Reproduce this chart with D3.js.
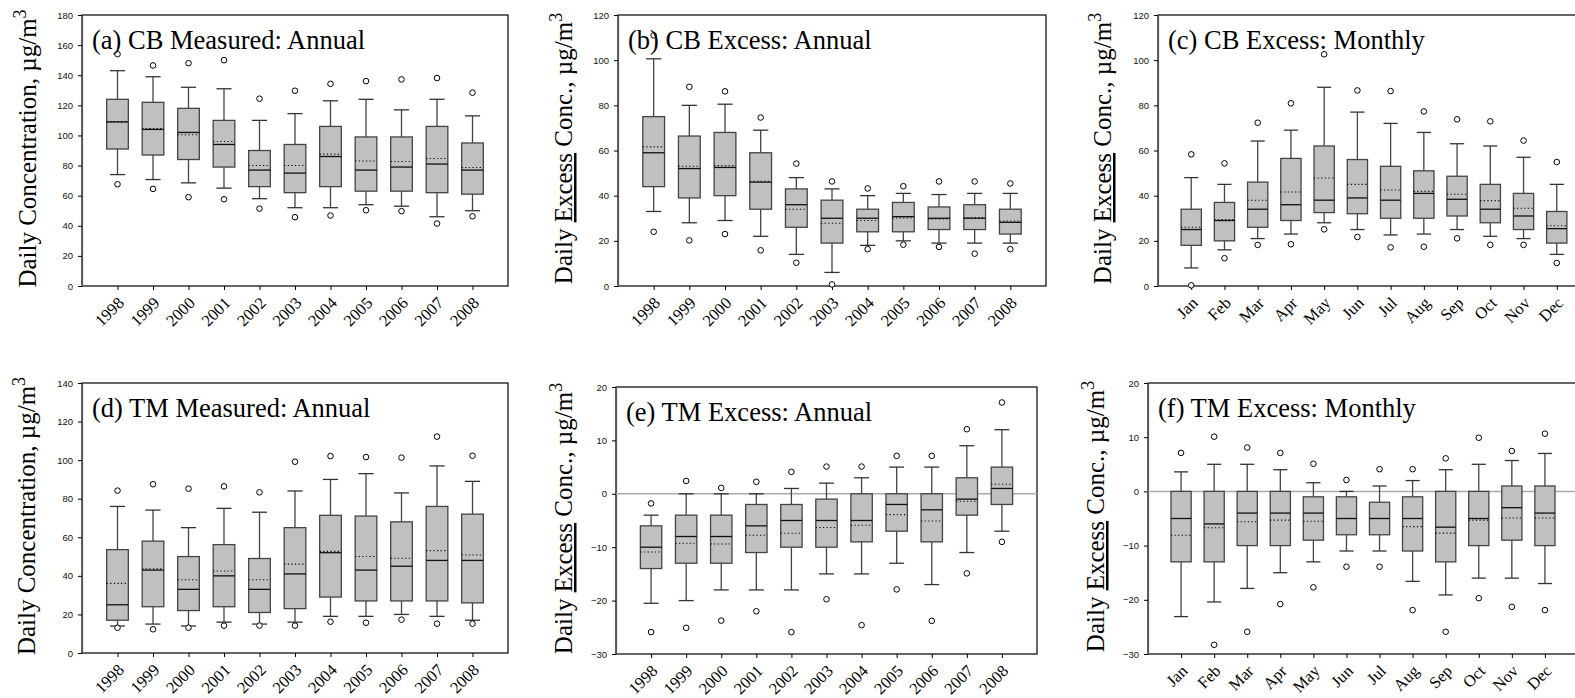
<!DOCTYPE html>
<html>
<head>
<meta charset="utf-8">
<script src="https://cdn.jsdelivr.net/npm/d3@7"></script>
<style>
  body { margin: 0; background: #fff; }
  svg { display: block; }
</style>
</head>
<body>
<svg width="1575" height="698"></svg>
<script>
const years = ['1998', '1999', '2000', '2001', '2002', '2003', '2004', '2005', '2006', '2007', '2008']
const months = ['Jan', 'Feb', 'Mar', 'Apr', 'May', 'Jun', 'Jul', 'Aug', 'Sep', 'Oct', 'Nov', 'Dec']

// each row: [5th pct, 10th pct, 25th, median, mean, 75th, 90th, 95th]
const cbMeasuredAnnual = [
    [67.6, 74, 91, 109, 109, 124, 143, 154],
    [64.5, 70.7, 87, 104, 104.6, 122, 139, 146.5],
    [59, 68.5, 84, 102, 100.5, 118, 132, 148],
    [57.6, 65, 79, 94, 96, 110, 131, 150],
    [51.4, 58, 66, 77, 80, 90, 110, 124.4],
    [45.7, 52, 62, 75, 80, 94, 114.5, 129.7],
    [46.8, 52, 66, 86, 87.6, 106, 123, 134.3],
    [50.3, 54, 63, 77, 83, 99, 124, 136.1],
    [49.7, 53, 63, 79, 82.7, 99, 117, 137.2],
    [41.5, 46, 62, 81, 84.7, 106, 124, 138.1],
    [46.3, 50, 61, 77, 78.7, 95, 113, 128.4]
]
const cbExcessAnnual = [
    [24, 33, 44, 59, 61.6, 75, 100.6, 111],
    [20.2, 28, 39, 52, 53, 66.4, 80, 88.2],
    [23, 29, 40, 52.5, 53.3, 68, 80.5, 86.2],
    [15.8, 22, 34, 46, 46.4, 59, 69, 74.6],
    [10.3, 14, 26, 36, 34, 43, 48, 54.2],
    [0.7, 6, 19, 30, 27.8, 38, 43, 46.3],
    [16.3, 18, 24, 30, 29, 34, 40, 43.2],
    [18.3, 20, 24, 30.7, 30.1, 37, 41, 44.2],
    [17.3, 19, 25, 30, 29.7, 35, 40.5, 46.3],
    [14.3, 19, 25, 30, 30.3, 36, 41, 46.3],
    [16.3, 19, 23, 28.2, 28.8, 34, 41, 45.4]
]
const cbExcessMonthly = [
    [0.3, 8, 18, 25, 26, 34, 48, 58.3],
    [12.3, 16, 20, 29, 29.4, 37, 45, 54.3],
    [18.2, 21, 26, 34, 38, 46, 64.2, 72.3],
    [18.5, 23, 29, 36, 41.6, 56.5, 69, 80.9],
    [25.1, 28, 32.5, 38, 47.8, 62, 88, 102.6],
    [21.7, 25, 32, 39, 45, 56, 77, 86.6],
    [17.1, 22.6, 30, 38, 42.5, 53, 72, 86.3],
    [17.4, 23, 30, 41, 41.9, 51, 68, 77.3],
    [21.1, 25, 31, 38.4, 40.6, 48.6, 63, 73.8],
    [18.2, 22, 28, 34, 37.8, 45, 62, 72.9],
    [18.2, 21, 25, 31, 34.4, 41, 57, 64.4],
    [10.2, 14, 19, 25.4, 26.7, 33, 45, 54.9]
]
const tmMeasuredAnnual = [
    [13.1, 14, 17, 25, 36.1, 53.6, 76, 84.2],
    [12.3, 15, 24, 43, 43.6, 58, 74.1, 87.5],
    [13.1, 14, 22, 33, 38, 50, 65, 85.2],
    [14.2, 16, 24, 40, 42.5, 56.2, 75, 86.4],
    [14.2, 15, 21, 33, 38, 49, 73, 83.3],
    [14.2, 16, 23, 41, 46.1, 65, 84, 99.2],
    [16.2, 19, 29, 52, 52.7, 71.4, 90, 102.1],
    [15.7, 19, 27, 43, 50, 71, 93, 101.6],
    [17.3, 20, 27, 45, 49.1, 68, 83, 101.3],
    [15.2, 19, 27, 48, 53.1, 76, 97, 112.2],
    [15.2, 17, 26, 48, 50.8, 72, 89, 102.3]
]
const tmExcessAnnual = [
    [-25.9, -20.5, -14, -10, -10.9, -6, -4, -1.8],
    [-25.1, -20, -13, -8, -9.25, -4, 0, 2.4],
    [-23.75, -18, -13, -8, -9.4, -4, 0, 1.1],
    [-22, -18, -11, -6, -7.75, -2, 0, 2.25],
    [-25.9, -18, -10, -5, -7.4, -2, 1, 4.1],
    [-19.75, -15, -10, -5, -6.3, -1, 2, 5.1],
    [-24.6, -15, -9, -5, -5.9, 0, 3, 5.1],
    [-17.9, -13, -7, -2, -3.9, 0, 5, 7.1],
    [-23.8, -17, -9, -3, -5.1, 0, 5, 7.1],
    [-14.9, -11, -4, -1, -1.4, 3, 9, 12.1],
    [-9, -7, -2, 1, 1.8, 5, 12, 17.1]
]
const tmExcessMonthly = [
    [null, -23.1, -13, -5, -8.1, 0, 3.6, 7.1],
    [-28.3, -20.4, -13, -6, -6.7, 0, 5, 10.1],
    [-25.9, -17.9, -10, -4, -5.6, 0, 5, 8.1],
    [-20.8, -15, -10, -4, -5.3, 0, 4, 7.1],
    [-17.7, -13, -9, -4, -5.5, -1, 1.6, 5.1],
    [-13.9, -11, -8, -5, -5, -1, 0, 2.1],
    [-13.9, -11, -8, -5, -5, -2, 1, 4.1],
    [-21.9, -16.6, -11, -5, -6.5, -1, 2, 4.1],
    [-25.9, -19.1, -13, -6.6, -7.7, 0, 4, 6.1],
    [-19.7, -16, -10, -5, -5.3, 0, 5, 9.9],
    [-21.3, -16, -9, -3, -4.9, 1, 5.7, 7.45],
    [-21.9, -17, -10, -4, -4.9, 1, 7, 10.65]
]

const panels = [
    { title: '(a) CB Measured: Annual', rows: cbMeasuredAnnual, cats: years, domain: [0, 180], step: 20, excess: false,
      left: 82, top: 15, right: 508, bottom: 286, labelX: 36 },
    { title: '(b) CB Excess: Annual', rows: cbExcessAnnual, cats: years, domain: [0, 120], step: 20, excess: true,
      left: 618, top: 15, right: 1046, bottom: 286, labelX: 572 },
    { title: '(c) CB Excess: Monthly', rows: cbExcessMonthly, cats: months, domain: [0, 120], step: 20, excess: true,
      left: 1158, top: 15, right: 1590, bottom: 286, labelX: 1111 },
    { title: '(d) TM Measured: Annual', rows: tmMeasuredAnnual, cats: years, domain: [0, 140], step: 20, excess: false,
      left: 82, top: 383, right: 508, bottom: 653, labelX: 35 },
    { title: '(e) TM Excess: Annual', rows: tmExcessAnnual, cats: years, domain: [-30, 20], step: 10, excess: true,
      left: 616, top: 387, right: 1037, bottom: 654, labelX: 572 },
    { title: '(f) TM Excess: Monthly', rows: tmExcessMonthly, cats: months, domain: [-30, 20], step: 10, excess: true,
      left: 1148, top: 383, right: 1578, bottom: 654, labelX: 1104 }
]

const svg = d3.select('svg')
const serif = '"Liberation Serif", "Times New Roman", serif'
const sans = '"Liberation Sans", Arial, sans-serif'

panels.forEach(p => {
    const x = d3.scalePoint()
        .domain(p.cats)
        .range([p.left, p.right])
        .padding(1)
    const y = d3.scaleLinear()
        .domain(p.domain)
        .range([p.bottom, p.top])

    const g = svg.append('g')

    // frame
    g.append('rect')
        .attr('x', p.left).attr('y', p.top)
        .attr('width', p.right - p.left).attr('height', p.bottom - p.top)
        .attr('fill', 'none').attr('stroke', '#000').attr('stroke-width', 1.2)

    // y axis
    const yAxis = g.append('g')
        .attr('transform', `translate(${p.left},0)`)
        .call(d3.axisLeft(y)
            .tickValues(d3.range(p.domain[0], p.domain[1] + 1, p.step))
            .tickSize(4).tickPadding(5))
    yAxis.select('.domain').attr('stroke', '#555').attr('stroke-width', 1.2)
    yAxis.selectAll('text').attr('font-family', sans).attr('font-size', 9.5).attr('fill', '#111')

    // x axis
    const xAxis = g.append('g')
        .attr('transform', `translate(0,${p.bottom})`)
        .call(d3.axisBottom(x).tickSize(4).tickPadding(0))
    xAxis.select('.domain').remove()
    xAxis.selectAll('text')
        .attr('y', 0).attr('dy', 0)
        .attr('text-anchor', 'end')
        .attr('transform', 'translate(7,18) rotate(-45)')
        .attr('font-family', serif).attr('font-size', 16.5).attr('fill', '#000')

    // zero reference line
    if (p.domain[0] < 0) {
        g.append('line')
            .attr('x1', p.left).attr('x2', p.right)
            .attr('y1', y(0)).attr('y2', y(0))
            .attr('stroke', '#aaa').attr('stroke-width', 1.5)
    }

    const bw = x.step() * 0.61
    const cap = bw * 0.7
    const boxes = g.selectAll('.box')
        .data(p.rows.map((r, i) => ({ cat: p.cats[i], r })))
        .enter().append('g')
            .attr('class', 'box')
            .attr('transform', d => `translate(${x(d.cat)},0)`)

    // whiskers
    boxes.append('line')
        .attr('y1', d => y(d.r[1])).attr('y2', d => y(d.r[2]))
        .attr('stroke', '#444').attr('stroke-width', 1.3)
    boxes.append('line')
        .attr('y1', d => y(d.r[5])).attr('y2', d => y(d.r[6]))
        .attr('stroke', '#444').attr('stroke-width', 1.3)
    boxes.append('line')
        .attr('x1', -cap / 2).attr('x2', cap / 2)
        .attr('y1', d => y(d.r[1])).attr('y2', d => y(d.r[1]))
        .attr('stroke', '#333').attr('stroke-width', 1.3)
    boxes.append('line')
        .attr('x1', -cap / 2).attr('x2', cap / 2)
        .attr('y1', d => y(d.r[6])).attr('y2', d => y(d.r[6]))
        .attr('stroke', '#333').attr('stroke-width', 1.3)

    // box
    boxes.append('rect')
        .attr('x', -bw / 2).attr('width', bw)
        .attr('y', d => y(d.r[5]))
        .attr('height', d => y(d.r[2]) - y(d.r[5]))
        .attr('fill', '#c0c0c0').attr('stroke', '#444').attr('stroke-width', 1.3)

    // median and mean
    boxes.append('line')
        .attr('x1', -bw / 2).attr('x2', bw / 2)
        .attr('y1', d => y(d.r[3])).attr('y2', d => y(d.r[3]))
        .attr('stroke', '#111').attr('stroke-width', 1.3)
    boxes.append('line')
        .attr('x1', -bw / 2).attr('x2', bw / 2)
        .attr('y1', d => y(d.r[4])).attr('y2', d => y(d.r[4]))
        .attr('stroke', '#000').attr('stroke-width', 1.1)
        .attr('stroke-dasharray', '1.2,2.4')

    // 5th / 95th percentile points
    boxes.selectAll('circle')
        .data(d => [d.r[0], d.r[7]].filter(v => v !== null))
        .enter().append('circle')
            .attr('cy', v => y(v))
            .attr('r', 2.8)
            .attr('fill', '#fff').attr('stroke', '#000').attr('stroke-width', 1)

    // panel title
    g.append('text')
        .attr('x', p.left + 10).attr('y', p.top + 34)
        .attr('font-family', serif).attr('font-size', 26.5)
        .text(p.title)

    // y label
    const label = g.append('text')
        .attr('transform', `translate(${p.labelX},${(p.top + p.bottom) / 2 - 2}) rotate(-90)`)
        .attr('text-anchor', 'middle')
        .attr('font-family', serif).attr('font-size', 25)
    if (p.excess) {
        label.append('tspan').text('Daily ')
        label.append('tspan').attr('text-decoration', 'underline').text('Excess')
        label.append('tspan').text(' Conc., \u00b5g/m')
    } else {
        label.append('tspan').text('Daily Concentration, \u00b5g/m')
    }
    label.append('tspan').attr('font-size', 18).attr('dy', -10).text('3')
})
</script>
</body>
</html>
